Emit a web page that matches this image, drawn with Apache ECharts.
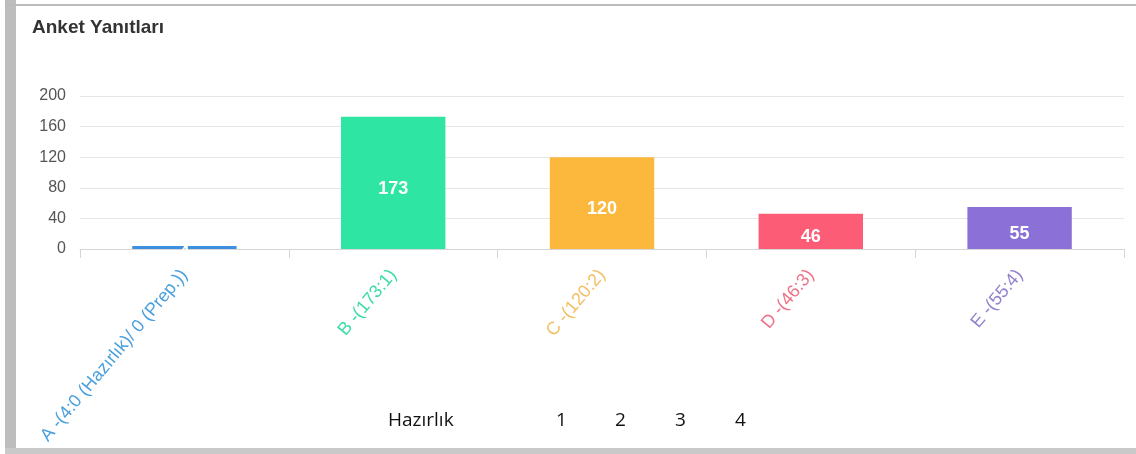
<!DOCTYPE html>
<html>
<head>
<meta charset="utf-8">
<script src="https://cdn.jsdelivr.net/npm/echarts@6/dist/echarts.min.js"></script>
<style>
html,body{margin:0;padding:0;background:#fff;}
#chart{width:1136px;height:454px;}
</style>
</head>
<body>
<div id="chart"></div>
<script>
const titleText = 'Anket Yanıtları';
const categories = ['A -(4:0 (Hazırlık)/ 0 (Prep.))', 'B -(173:1)', 'C -(120:2)', 'D -(46:3)', 'E -(55:4)'];
const values = [4, 173, 120, 46, 55];
const barColors = ['#3d8fe0', '#2ee5a3', '#fbb83c', '#fd5c76', '#8b70d7'];
const labelColors = ['#4aa0dc', '#3ddca6', '#f1c063', '#ee7187', '#9383cf'];
const yTicks = { min: 0, max: 200, interval: 40 };
const footerLabels = ['Hazırlık', '1', '2', '3', '4'];
const footerX = [388, 556, 615, 675, 735];

const chart = echarts.init(document.getElementById('chart'), null, { renderer: 'canvas' });

const graphics = [
  { type: 'rect', shape: { x: 5, y: 0, width: 11, height: 454 }, style: { fill: '#bdbdbd' }, z: 0 },
  { type: 'rect', shape: { x: 5, y: 4, width: 1131, height: 2 }, style: { fill: '#bbbbbb' }, z: 0 },
  { type: 'rect', shape: { x: 5, y: 448, width: 1131, height: 6 }, style: { fill: '#c9c9c9' }, z: 0 }
];
footerLabels.forEach((t, i) => {
  graphics.push({
    type: 'text', left: footerX[i], top: 411,
    style: { text: t, fill: '#111', font: '19px "Open Sans", sans-serif' }, z: 10
  });
});

chart.setOption({
  animation: false,
  backgroundColor: '#fff',
  title: {
    text: titleText, left: 27, top: 13,
    textStyle: { fontFamily: 'Liberation Sans, Arial, sans-serif', fontSize: 19, fontWeight: 'bold', color: '#333' }
  },
  grid: { left: 80, right: 12, top: 96, bottom: 205, containLabel: false },
  xAxis: {
    type: 'category',
    data: categories,
    axisLine: { show: true, lineStyle: { color: '#d6d6d6', width: 1 } },
    axisTick: { show: true, length: 9, lineStyle: { color: '#d6d6d6' } },
    axisLabel: {
      rotate: 50, margin: 23, interval: 0,
      fontFamily: 'Liberation Sans, Arial, sans-serif', fontSize: 18,
      color: function (v, i) { return labelColors[i]; }
    },
    splitLine: { show: false }
  },
  yAxis: {
    type: 'value', min: yTicks.min, max: yTicks.max, interval: yTicks.interval,
    axisLine: { show: false }, axisTick: { show: false },
    axisLabel: { margin: 14, fontFamily: 'Liberation Sans, Arial, sans-serif', fontSize: 16, color: '#555' },
    splitLine: { lineStyle: { color: '#e6e6e6', width: 1 } }
  },
  series: [{
    type: 'bar',
    data: values.map((v, i) => ({ value: v, itemStyle: { color: barColors[i] } })),
    barWidth: '50%',
    label: {
      show: true, position: 'inside', offset: [0, 6],
      color: '#fff', fontFamily: 'Liberation Sans Narrow, Liberation Sans, Arial, sans-serif', fontSize: 18, fontWeight: 'bold'
    }
  }],
  graphic: graphics
});
</script>
</body>
</html>
